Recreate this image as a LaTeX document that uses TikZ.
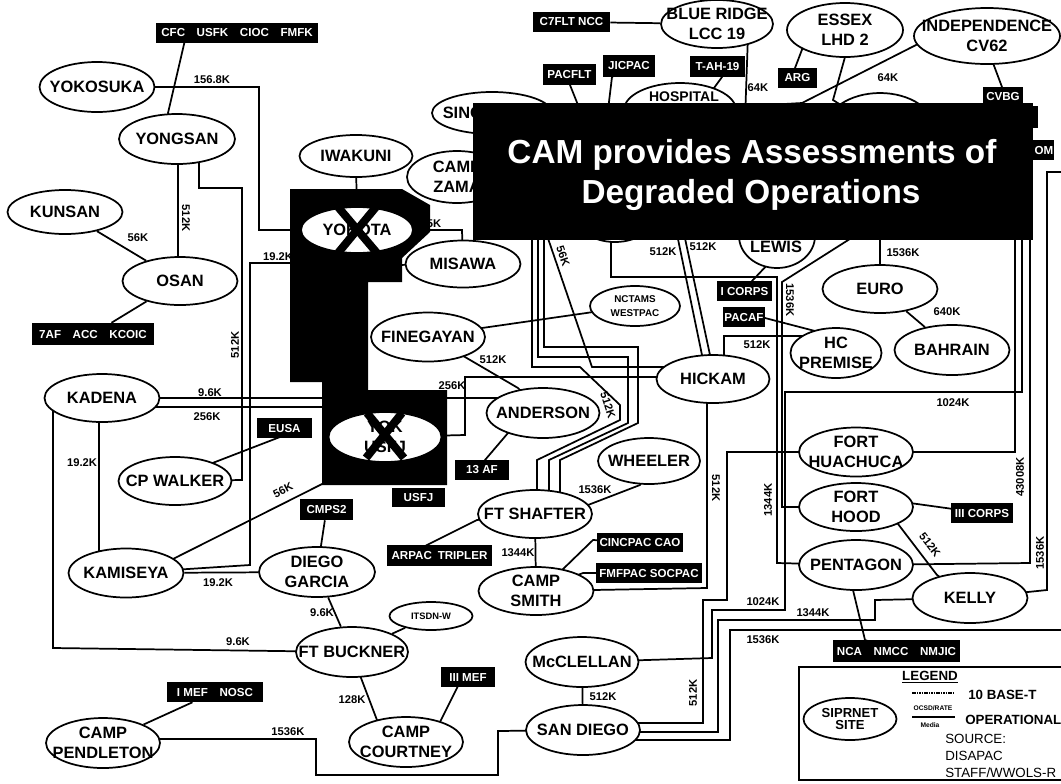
\documentclass[tikz,border=0pt]{standalone}
\usepackage{fontspec}
\setmainfont{Liberation Sans}
\usetikzlibrary{shapes.geometric}
\pgfdeclarelayer{bg}
\pgfdeclarelayer{fg}
\pgfsetlayers{bg,main,fg}
\tikzset{
 txt/.style={inner sep=0pt, align=center, font=\bfseries\fontsize{12.3}{15}\selectfont},
 site/.style 2 args={ellipse, draw, fill=white, line width=1.3pt, inner sep=0pt,
   minimum width=#1*0.75pt, minimum height=#2*0.75pt},
 lb/.style={label={[txt]center:{#1}}},
 bx/.style 2 args={rectangle, fill=black, inner sep=0pt, minimum width=#1*0.75pt,
   minimum height=#2*0.75pt, text=white, font=\bfseries\fontsize{8.7}{9}\selectfont},
 bxt/.style={inner sep=0pt, text=white, font=\bfseries\fontsize{8.7}{9}\selectfont},
 lbl/.style={inner sep=0pt, font=\bfseries\fontsize{8.4}{9}\selectfont},
 conn/.style={line width=1.3pt},
 xmark/.style={line width=6pt},
}
\begin{document}
\begin{tikzpicture}[x=0.75pt,y=-0.75pt]
\useasboundingbox (0,0) rectangle (1061,783);
\begin{pgfonlayer}{bg}
\fill[white] (0,0) rectangle (1061,783);
\end{pgfonlayer}

% label partly hidden by the black area
\node[lbl] (l192a) at (278,257) {19.2K};

% black area round YOKOTA and YOK USFJ
\fill[black] (290,189) -- (402,189) -- (430,205) -- (430,232) -- (402,258) -- (402,282)
  -- (368,282) -- (368,390) -- (447,390) -- (447,485) -- (322,485) -- (322,382)
  -- (290,382) -- cycle;

% ---------- sites ----------
\node[site={115}{50}, lb=YOKOSUKA] (yokosuka) at (97,87) {};
\node[site={116}{50}, lb=YONGSAN] (yongsan) at (177,139) {};
\node[site={115}{44}, lb=KUNSAN] (kunsan) at (65,212) {};
\node[site={115}{48}, lb=OSAN] (osan) at (180,281) {};
\node[site={113}{42}, lb=IWAKUNI] (iwakuni) at (356,156) {};
\node[site={112}{46}, lb=YOKOTA] (yokota) at (357,230) {};
\node[site={115}{47}, lb=MISAWA] (misawa) at (463,264) {};
\node[site={100}{52}, lb={CAMP\\ZAMA}] (zama) at (457,177) {};
\node[site={120}{42}, lb=SINGAPORE] (sing) at (492,113) {};
\node[site={80}{54}] (hid1) at (615,215) {};
\node[site={112}{54}] (hospital) at (680,110) {};
\node[txt, font=\bfseries\fontsize{10.5}{12}\selectfont] (hosptxt) at (684,97) {HOSPITAL};
\node[site={112}{48}, lb={BLUE RIDGE\\LCC 19}] (blue) at (717,24) {};
\node[site={116}{54}, lb={ESSEX\\LHD 2}] (essex) at (845,30) {};
\node[site={146}{56}, lb={INDEPENDENCE\\CV62}] (indep) at (987,36) {};
\node[site={110}{74}] (hid2) at (880,130) {};
\node[site={76}{64}] (lewis) at (777,236) {};
\node[txt] (lewistxt) at (776,247) {LEWIS};
\node[site={115}{48}, lb=EURO] (euro) at (880,289) {};
\node[site={115}{50}, lb=BAHRAIN] (bahrain) at (952,350) {};
\node[site={91}{50}, lb={HC\\PREMISE}] (hcprem) at (836,353) {};
\node[site={113}{48}, lb=HICKAM] (hickam) at (713,379) {};
\node[site={90}{40}, label={[txt, font=\bfseries\fontsize{7.4}{10.5}\selectfont]center:{NCTAMS\\WESTPAC}}] (nctams) at (635,306) {};
\node[site={114}{49}, lb=FINEGAYAN] (finegayan) at (428,337) {};
\node[site={113}{50}, lb=ANDERSON] (anderson) at (543,413) {};
\node[site={102}{46}, lb=WHEELER] (wheeler) at (649,461) {};
\node[site={114}{48}, lb=FT SHAFTER] (ftshafter) at (535,514) {};
\node[site={115}{48}, lb={CAMP\\SMITH}] (campsmith) at (536,591) {};
\node[site={114}{49}, lb={FORT\\HUACHUCA}] (huachuca) at (856,452) {};
\node[site={114}{48}, lb={FORT\\HOOD}] (hood) at (856,507) {};
\node[site={114}{50}, lb=PENTAGON] (pentagon) at (856,565) {};
\node[site={115}{50}, lb=KELLY] (kelly) at (970,598) {};
\node[site={115}{48}, lb=KADENA] (kadena) at (102,398) {};
\node[site={113}{48}, lb=CP WALKER] (cpwalker) at (175,481) {};
\node[site={113}{50}, lb={YOK\\USFJ}] (yokusfj) at (385,437) {};
\node[site={115}{49}, lb=KAMISEYA] (kamiseya) at (126,573) {};
\node[site={116}{50}, lb={DIEGO\\GARCIA}] (diego) at (317,572) {};
\node[site={112}{50}, lb=FT BUCKNER] (ftbuckner) at (352,652) {};
\node[site={83}{28}, label={[txt, font=\bfseries\fontsize{7}{8}\selectfont]center:ITSDN-W}] (itsdn) at (431,616) {};
\node[site={114}{50}, lb={CAMP\\COURTNEY}] (courtney) at (406,742) {};
\node[site={114}{50}, lb={CAMP\\PENDLETON}] (pendleton) at (103,743) {};
\node[site={113}{50}, lb=McCLELLAN] (mcclellan) at (582,662) {};
\node[site={114}{50}, lb=SAN DIEGO] (sandiego) at (583,730) {};

% X marks
\draw[xmark] (338,207) -- (377,253);
\draw[xmark] (376,207) -- (338,253);
\draw[xmark] (367,413) -- (404,458);
\draw[xmark] (402,413) -- (366,458);

% ---------- black boxes ----------
\node[bx={162}{20}] (cfc) at (237,33) {CFC\quad USFK\quad CIOC\quad FMFK};
\node[bx={122}{22}] (af7) at (93,334) {7AF\quad ACC\quad KCOIC};
\node[bx={77}{20}] (c7flt) at (571.5,22) {C7FLT NCC};
\node[bx={53}{21}] (pacflt) at (569.5,74.5) {PACFLT};
\node[bx={52}{22}] (jicpac) at (629,66) {JICPAC};
\node[bx={55}{21}] (tah) at (717.5,66.5) {T-AH-19};
\node[bx={39}{20}] (arg) at (797.5,78) {ARG};
\node[bx={40}{20}] (cvbg) at (1003,97) {CVBG};
\node[bx={60}{20}] (om) at (1024,150) {};
\node[bxt] (omtxt) at (1044,150) {OM};
\node[bx={5}{22}] (sliver) at (1035,117) {};
\node[bx={55}{20}] (eusa) at (284.5,428) {EUSA};
\node[bx={53}{21}] (cmps2) at (326.5,509.5) {CMPS2};
\node[bx={53}{19}] (usfj) at (418.5,497.5) {USFJ};
\node[bx={54}{20}] (af13) at (482,470) {13 AF};
\node[bx={55}{20}] (icorps) at (744.5,291) {I CORPS};
\node[bx={42}{20}] (pacaf) at (744,317) {PACAF};
\node[bx={62}{20}] (iiicorps) at (982,513) {III CORPS};
\node[bx={105}{21}] (arpac) at (439.5,555.5) {ARPAC\enspace TRIPLER};
\node[bx={86}{19}] (cincpac) at (640,542.5) {CINCPAC CAO};
\node[bx={106}{20}] (fmfpac) at (649,573) {FMFPAC SOCPAC};
\node[bx={54}{20}] (iiimef) at (468,677) {III MEF};
\node[bx={96}{20}] (imef) at (215,692) {I MEF\quad NOSC};
\node[bx={127}{22}] (nca) at (896.5,651) {NCA\quad NMCC\quad NMJIC};

\coordinate (edgeR) at (1061,172);
\coordinate (edgeR2) at (1061,630);

% ---------- line labels ----------
\node[lbl] (k1) at (212,80) {156.8K};
\node[lbl,rotate=-90] (k2) at (186,218) {512K};
\node[lbl] (k3) at (138,238) {56K};
\node[lbl,rotate=90] (k4) at (235,345) {512K};
\node[lbl] (k5) at (210,393) {9.6K};
\node[lbl] (k6) at (207,417) {256K};
\node[lbl] (k7) at (82,463) {19.2K};
\node[lbl,rotate=27] (k8) at (283,490) {56K};
\node[lbl] (k9) at (218,583) {19.2K};
\node[lbl] (k10) at (322,613) {9.6K};
\node[lbl] (k11) at (238,642) {9.6K};
\node[lbl] (k12) at (352,700) {128K};
\node[lbl] (k13) at (288,732) {1536K};
\node[lbl] (k14) at (434,224) {5K};
\node[lbl] (k15) at (493,360) {512K};
\node[lbl] (k16) at (452,386) {256K};
\node[lbl,rotate=-71] (k17) at (563,256) {56K};
\node[lbl,rotate=-72] (k18) at (608,405) {512K};
\node[lbl] (k19) at (663,252) {512K};
\node[lbl] (k20) at (703,247) {512K};
\node[lbl] (k21) at (595,490) {1536K};
\node[lbl] (k22) at (518,553) {1344K};
\node[lbl,rotate=-90] (k23) at (716,488) {512K};
\node[lbl] (k24) at (757,345) {512K};
\node[lbl,rotate=-90] (k25) at (790,300) {1536K};
\node[lbl] (k26) at (903,253) {1536K};
\node[lbl] (k27) at (947,312) {640K};
\node[lbl] (k28) at (953,403) {1024K};
\node[lbl,rotate=90] (k29) at (768,500) {1344K};
\node[lbl,rotate=90] (k30) at (1020,477) {43008K};
\node[lbl,rotate=-52] (k31) at (930,545) {512K};
\node[lbl,rotate=90] (k32) at (1040,553) {1536K};
\node[lbl] (k33) at (763,602) {1024K};
\node[lbl] (k34) at (813,613) {1344K};
\node[lbl] (k35) at (763,640) {1536K};
\node[lbl] (k36) at (603,697) {512K};
\node[lbl,rotate=90] (k37) at (693,693) {512K};
\node[lbl] (k38) at (758,88) {64K};
\node[lbl] (k39) at (888,78) {64K};

% ---------- legend ----------
\draw[line width=1pt] (1061,667) -- (799,667) -- (799,780) -- (1061,780);
\node[inner sep=0pt, font=\bfseries\fontsize{10}{11}\selectfont] (legend) at (930,677) {\underline{LEGEND}};
\draw[line width=0.8pt, dash pattern=on 1.2pt off 0.6pt] (912,693) -- (955,693);
\node[anchor=west, inner sep=0pt, font=\bfseries\fontsize{10}{11}\selectfont] (baset) at (968,695) {10 BASE-T};
\node[site={93}{42}, label={[txt, font=\bfseries\fontsize{9.8}{9.5}\selectfont]center:{SIPRNET\\SITE}}] (siprnet) at (850,719) {};
\node[inner sep=0pt, font=\bfseries\fontsize{5}{5}\selectfont] (ocsd) at (933,708) {OCSD/RATE};
\draw[line width=1.5pt] (912,717) -- (955,717);
\node[inner sep=0pt, font=\bfseries\fontsize{5}{5}\selectfont] (media) at (930,725) {Media};
\node[anchor=west, inner sep=0pt, font=\bfseries\fontsize{10}{11}\selectfont] (oper) at (965,720) {OPERATIONAL};
\node[anchor=north west, inner sep=0pt, align=left, font=\fontsize{10}{12.8}\selectfont] (src) at (945,734) {SOURCE:\\DISAPAC\\STAFF/WWOLS-R};

% ---------- connectors ----------
\begin{pgfonlayer}{bg}
\draw[conn] (cfc.center) -- (185,40) -- (168,113) -- (yongsan.center);
\draw[conn] (yokosuka.center) -- (259,87) -- (259,230) -- (yokota.center);
\draw[conn] (yongsan.center) -- (178,139) -- (178,281) -- (osan.center);
\draw[conn] (yongsan.center) -- (199,139) -- (199,188) -- (242,188) -- (242,480) -- (cpwalker.center);
\draw[conn] (kunsan) -- (osan);
\draw[conn] (osan) -- (af7);
\draw[conn] (iwakuni) -- (yokota);
\draw[conn] (yokota.center) -- (462,230) -- (misawa.center);
\draw[conn] (misawa.center) -- (395,265) -- (yokota.center);
\draw[conn] (yokota.center) -- (300,263) -- (250,263) -- (250,565) -- (kamiseya.center);
\draw[conn] (kadena.center) -- (530,398) -- (anderson.center);
\draw[conn] (kadena.center) -- (90,407) -- (330,407) -- (yokusfj.center);
\draw[conn] (kadena.center) -- (53,398) -- (53,648) -- (ftbuckner.center);
\draw[conn] (kadena.center) -- (99,398) -- (99,573) -- (kamiseya.center);
\draw[conn] (cpwalker.center) -- (210,464) -- (280,437) -- (eusa.center);
\draw[conn] (kamiseya.center) -- (165,563) -- (340,475) -- (yokusfj.center);
\draw[conn] (kamiseya) -- (diego);
\draw[conn] (diego) -- (cmps2);
\draw[conn] (diego) -- (ftbuckner);
\draw[conn] (ftbuckner) -- (itsdn);
\draw[conn] (ftbuckner.center) -- (358,670) -- (380,728) -- (courtney.center);
\draw[conn] (courtney.center) -- (440,722) -- (458,686) -- (iiimef.center);
\draw[conn] (pendleton) -- (imef);
\draw[conn] (pendleton.center) -- (100,739) -- (316,739) -- (316,775) -- (498,775) -- (498,731) -- (sandiego.center);
\draw[conn] (mcclellan) -- (sandiego);
\draw[conn] (hickam.center) -- (707,379) -- (707,588) -- (campsmith.center);
\draw[conn] (ftshafter) -- (campsmith);
\draw[conn] (campsmith.center) -- (560,572) -- (593,540) -- (cincpac.center);
\draw[conn] (campsmith.center) -- (583,573) -- (fmfpac.center);
\draw[conn] (ftshafter.center) -- (477,520) -- (427,545) -- (arpac.center);
\draw[conn] (wheeler.center) -- (640,485) -- (588,505) -- (ftshafter.center);
\draw[conn] (anderson.center) -- (508,433) -- (485,460) -- (af13.center);
\draw[conn] (finegayan.center) -- (465,357) -- (518,388) -- (anderson.center);
\draw[conn] (finegayan.center) -- (482,328) -- (nctams.center);
\draw[conn] (yokusfj.center) -- (465,435) -- (465,377) -- (700,377) -- (hickam.center);
\draw[conn] (sing.center) -- (544,200) -- (544,347) -- (638,347) -- (638,423) -- (560,460) -- (560,514) -- (ftshafter.center);
\draw[conn] (sing.center) -- (538,200) -- (538,357) -- (628,357) -- (628,423) -- (549,460) -- (549,514) -- (ftshafter.center);
\draw[conn] (sing.center) -- (532,200) -- (532,367) -- (580,367) -- (620,405) -- (620,420) -- (537,460) -- (537,514) -- (ftshafter.center);
\draw[conn] (sing.center) -- (540,215) -- (592,367) -- (700,367) -- (hickam.center);
\draw[conn] (hospital.center) -- (673,215) -- (702,355) -- (hickam.center);
\draw[conn] (hospital.center) -- (680,215) -- (710,355) -- (hickam.center);
\draw[conn] (hid1.center) -- (611,230) -- (611,277) -- (777,277) -- (777,563) -- (pentagon.center);
\draw[conn] (hid2.center) -- (864,230) -- (782,282) -- (782,507) -- (hood.center);
\draw[conn] (hid2) -- (euro);
\draw[conn] (euro) -- (bahrain);
\draw[conn] (lewis.center) -- (770,262) -- (752,281) -- (icorps.center);
\draw[conn] (pacaf.center) -- (765,318) -- (815,331) -- (hcprem.center);
\draw[conn] (hcprem.center) -- (820,336) -- (724,336) -- (724,379) -- (hickam.center);
\draw[conn] (hid2.center) -- (1022,200) -- (1022,392) -- (785,392) -- (785,610) -- (712,610) -- (712,658) -- (mcclellan.center);
\draw[conn] (huachuca.center) -- (1015,452) -- (1015,200) -- (hid2.center);
\draw[conn] (pentagon.center) -- (1030,563) -- (1030,200) -- (hid2.center);
\draw[conn] (kelly.center) -- (1047,590) -- (1047,172) -- (edgeR);
\draw[conn] (kelly.center) -- (875,600) -- (875,620) -- (718,620) -- (718,732) -- (620,732) -- (sandiego.center);
\draw[conn] (sandiego.center) -- (620,740) -- (730,740) -- (730,630) -- (edgeR2);
\draw[conn] (sandiego.center) -- (620,723) -- (703,723) -- (703,600) -- (727,600) -- (727,452) -- (huachuca.center);
\draw[conn] (hood.center) -- (895,520) -- (937,575) -- (kelly.center);
\draw[conn] (hood.center) -- (910,503) -- (iiicorps.center);
\draw[conn] (pentagon.center) -- (853,590) -- (865,640) -- (nca.center);
\draw[conn] (indep.center) -- (993,63) -- (1002,87) -- (cvbg.center);
\draw[conn] (essex.center) -- (803,47) -- (795,68) -- (arg.center);
\draw[conn] (essex.center) -- (845,57) -- (833,100) -- (hid2.center);
\draw[conn] (indep.center) -- (918,44) -- (802,103) -- (hospital.center);
\draw[conn] (blue) -- (c7flt);
\draw[conn] (blue.center) -- (748,35) -- (745,120) -- (hospital.center);
\draw[conn] (tah.center) -- (722,77) -- (714,88) -- (hospital.center);
\draw[conn] (jicpac.center) -- (612,77) -- (608,110) -- (hid1.center);
\draw[conn] (pacflt.center) -- (570,85) -- (580,110) -- (hid1.center);
\end{pgfonlayer}

% ---------- title ----------
\begin{pgfonlayer}{fg}
\node[fill=black, inner sep=0pt, minimum width=560*0.75pt, minimum height=137*0.75pt] (title) at (753,171.5) {};
\node[anchor=base, inner sep=0pt, text=white, font=\bfseries\fontsize{25}{30}\selectfont] (t1) at (752,163) {CAM provides Assessments of};
\node[anchor=base, inner sep=0pt, text=white, font=\bfseries\fontsize{25}{30}\selectfont] (t2) at (751,203) {Degraded Operations};
\end{pgfonlayer}
\end{tikzpicture}
\end{document}
